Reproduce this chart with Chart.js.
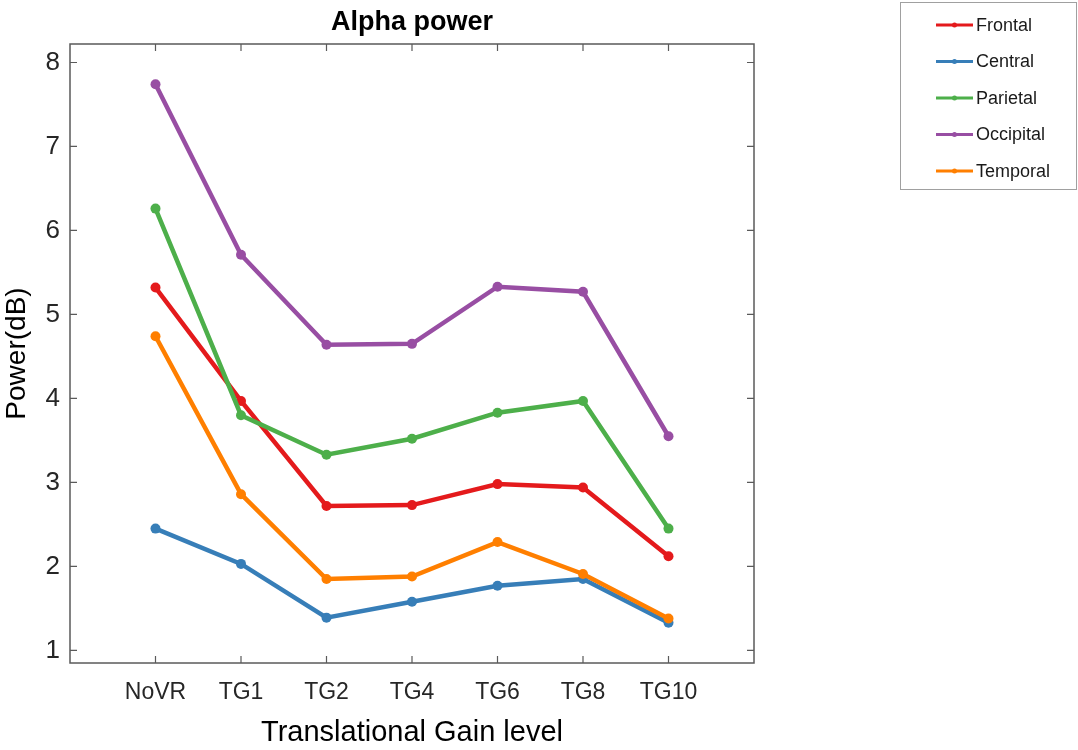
<!DOCTYPE html>
<html>
<head>
<meta charset="utf-8">
<script src="https://cdn.jsdelivr.net/npm/chart.js@4"></script>
<style>
  html, body { margin: 0; padding: 0; background: #fff; }
  #wrap { width: 1078px; height: 750px; }
</style>
</head>
<body>
<div id="wrap"><canvas id="chart1" width="1078" height="750"></canvas></div>
<script>
// categories along the x axis
let categories = ['NoVR', 'TG1', 'TG2', 'TG4', 'TG6', 'TG8', 'TG10'];

// one list per brain region
let frontal   = [5.32, 3.97, 2.72, 2.73, 2.98, 2.94, 2.12];
let central   = [2.45, 2.03, 1.39, 1.58, 1.77, 1.85, 1.33];
let parietal  = [6.26, 3.80, 3.33, 3.52, 3.83, 3.97, 2.45];
let occipital = [7.74, 5.71, 4.64, 4.65, 5.33, 5.27, 3.55];
let temporal  = [4.74, 2.86, 1.85, 1.88, 2.29, 1.91, 1.38];

let seriesNames = ['Frontal', 'Central', 'Parietal', 'Occipital', 'Temporal'];
let seriesColors = ['#e41a1c', '#377eb8', '#4daf4a', '#984ea3', '#ff7f00'];
let yTicks = [1, 2, 3, 4, 5, 6, 7, 8];

let font = "'Liberation Sans', Arial, Helvetica, sans-serif";
let axisColor = '#5a5a5a';

let datasets = [frontal, central, parietal, occipital, temporal].map(function (vals, i) {
  return {
    label: seriesNames[i],
    data: vals.map(function (v, j) { return { x: j, y: v }; }),
    borderColor: seriesColors[i],
    backgroundColor: seriesColors[i],
    borderWidth: 4.5,
    pointRadius: 5,
    pointBorderWidth: 0,
    pointBackgroundColor: seriesColors[i],
    tension: 0,
    order: -i
  };
});

// box, inward ticks, title and the legend box, drawn like the matlab figure
let decor = {
  id: 'decor',
  afterDraw: function (chart) {
    let ctx = chart.ctx;
    let a = chart.chartArea;
    let xs = chart.scales.x, ys = chart.scales.y;
    ctx.save();
    ctx.strokeStyle = axisColor;
    ctx.lineWidth = 1.5;
    ctx.strokeRect(a.left, a.top, a.right - a.left, a.bottom - a.top);
    ctx.lineWidth = 1.2;
    ctx.beginPath();
    categories.forEach(function (c, i) {
      let px = xs.getPixelForValue(i);
      ctx.moveTo(px, a.bottom); ctx.lineTo(px, a.bottom - 7);
      ctx.moveTo(px, a.top); ctx.lineTo(px, a.top + 7);
    });
    yTicks.forEach(function (v) {
      let py = ys.getPixelForValue(v);
      ctx.moveTo(a.left, py); ctx.lineTo(a.left + 7, py);
      ctx.moveTo(a.right, py); ctx.lineTo(a.right - 7, py);
    });
    ctx.stroke();

    // title
    ctx.fillStyle = '#000';
    ctx.font = 'bold 27px ' + font;
    ctx.textAlign = 'center';
    ctx.textBaseline = 'middle';
    ctx.fillText('Alpha power', (a.left + a.right) / 2, 23);

    // legend
    ctx.strokeStyle = '#a0a0a0';
    ctx.lineWidth = 1;
    ctx.strokeRect(900.5, 2.5, 176, 187);
    ctx.font = '18px ' + font;
    ctx.textAlign = 'left';
    seriesNames.forEach(function (name, i) {
      let ry = 25 + i * 36.5;
      ctx.strokeStyle = seriesColors[i];
      ctx.lineWidth = 3;
      ctx.beginPath();
      ctx.moveTo(936, ry); ctx.lineTo(973, ry);
      ctx.stroke();
      ctx.fillStyle = seriesColors[i];
      ctx.beginPath();
      ctx.arc(954.5, ry, 2.5, 0, Math.PI * 2);
      ctx.fill();
      ctx.fillStyle = '#1a1a1a';
      ctx.fillText(name, 976, ry + 1);
    });
    ctx.restore();
  }
};

let options = {
  type: 'line',
  data: { datasets: datasets },
  options: {
    responsive: false,
    animation: false,
    layout: { padding: { top: 44, right: 324, left: 0, bottom: 0 } },
    plugins: {
      legend: { display: false },
      title: { display: false },
      tooltip: { enabled: false }
    },
    scales: {
      x: {
        type: 'linear',
        min: -1,
        max: 7,
        afterBuildTicks: function (scale) {
          scale.ticks = categories.map(function (c, i) { return { value: i }; });
        },
        afterFit: function (scale) { scale.height = 87; },
        grid: { display: false, drawTicks: false },
        border: { display: false },
        ticks: {
          padding: 16,
          color: '#262626',
          font: { family: font, size: 23 },
          maxRotation: 0,
          callback: function (v) { return categories[v]; }
        },
        title: {
          display: true,
          text: 'Translational Gain level',
          color: '#000',
          font: { family: font, size: 29 },
          padding: { top: 5, bottom: 0 }
        }
      },
      y: {
        min: 0.85,
        max: 8.22,
        afterBuildTicks: function (scale) {
          scale.ticks = yTicks.map(function (v) { return { value: v }; });
        },
        afterFit: function (scale) { scale.width = 70; },
        grid: { display: false, drawTicks: false },
        border: { display: false },
        ticks: {
          padding: 10,
          color: '#262626',
          font: { family: font, size: 26 }
        },
        title: {
          display: true,
          text: 'Power(dB)',
          color: '#000',
          font: { family: font, size: 28 },
          padding: { top: 0, bottom: 0 }
        }
      }
    }
  },
  plugins: [decor]
};

let chart = new Chart(document.getElementById('chart1'), options);
</script>
</body>
</html>
